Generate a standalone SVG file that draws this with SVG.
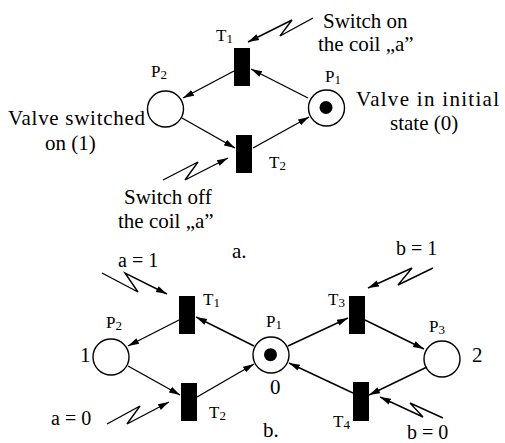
<svg xmlns="http://www.w3.org/2000/svg" width="505" height="443" viewBox="0 0 505 443">
<defs>
<marker id="ah" markerUnits="userSpaceOnUse" markerWidth="12" markerHeight="8" viewBox="0 0 12 8" refX="11" refY="4" orient="auto">
<path d="M0,0.8 L11,4 L0,7.2 Z" fill="#000"/>
</marker>
</defs>
<style>
text{font-family:'Liberation Serif','Times New Roman',serif;fill:#000}
.big{font-size:21px}
.lab{font-size:17px}
.sub{font-size:13px}
.eq{font-size:20px}
.place{fill:#fff;stroke:#000;stroke-width:1.4}
.tr{fill:#000}
.arc{fill:none;stroke:#000;stroke-width:1.4;marker-end:url(#ah)}
</style>
<rect width="505" height="443" fill="#fff"/>

<g id="a_T1"><rect class="tr" x="234" y="48" width="16" height="38"/><text class="lab" x="216" y="41">T<tspan class="sub" dy="2">1</tspan></text></g>
<g id="a_T2"><rect class="tr" x="236" y="135" width="16" height="38"/><text class="lab" x="269" y="168">T<tspan class="sub" dy="2">2</tspan></text></g>
<g id="a_P2"><circle class="place" cx="165.5" cy="109" r="18"/><text class="lab" x="151" y="77">P<tspan class="sub" dy="2">2</tspan></text></g>
<g id="a_P1"><circle class="place" cx="326.5" cy="108" r="18"/><circle cx="326" cy="107.5" r="6.5" fill="#000"/><text class="lab" x="325" y="82">P<tspan class="sub" dy="2">1</tspan></text></g>

<g id="a_texts">
<text class="big" x="323" y="28">Switch on</text>
<text class="big" x="318" y="51">the coil „a”</text>
<text class="big" x="356" y="106" textLength="143" lengthAdjust="spacing">Valve in initial</text>
<text class="big" x="390" y="130">state (0)</text>
<text class="big" x="8" y="125" textLength="137" lengthAdjust="spacing">Valve switched</text>
<text class="big" x="45" y="150">on (1)</text>
<text class="big" x="124" y="204">Switch off</text>
<text class="big" x="118" y="228">the coil „a”</text>
<text class="big" x="232" y="258">a.</text>
</g>

<g id="b_T1"><rect class="tr" x="179" y="296" width="16" height="38"/><text class="lab" x="203" y="305">T<tspan class="sub" dy="2">1</tspan></text></g>
<g id="b_T3"><rect class="tr" x="349" y="296" width="16" height="38"/><text class="lab" x="328" y="305">T<tspan class="sub" dy="2">3</tspan></text></g>
<g id="b_T2"><rect class="tr" x="181" y="383" width="16" height="38"/><text class="lab" x="209" y="418">T<tspan class="sub" dy="2">2</tspan></text></g>
<g id="b_T4"><rect class="tr" x="353" y="382" width="16" height="39"/><text class="lab" x="333" y="427">T<tspan class="sub" dy="2">4</tspan></text></g>
<g id="b_P2"><circle class="place" cx="111" cy="357" r="18"/><text class="lab" x="106" y="328">P<tspan class="sub" dy="2">2</tspan></text><text class="big" x="80" y="362">1</text></g>
<g id="b_P1"><circle class="place" cx="271" cy="355" r="18"/><circle cx="270.5" cy="354.7" r="6.5" fill="#000"/><text class="lab" x="266" y="327">P<tspan class="sub" dy="2">1</tspan></text><text class="big" x="270" y="394">0</text></g>
<g id="b_P3"><circle class="place" cx="442" cy="359" r="18"/><text class="lab" x="429" y="332">P<tspan class="sub" dy="2">3</tspan></text><text class="big" x="472" y="362">2</text></g>

<g id="b_texts">
<text class="eq" x="118" y="267">a = 1</text>
<text class="eq" x="396" y="255">b = 1</text>
<text class="eq" x="51" y="425">a = 0</text>
<text class="eq" x="407" y="439">b = 0</text>
<text class="big" x="263" y="437">b.</text>
</g>

<g id="connectors">
<line class="arc" x1="234" y1="71" x2="183" y2="98"/>
<line class="arc" x1="308" y1="98" x2="251" y2="69"/>
<line class="arc" x1="182" y1="118" x2="235" y2="148"/>
<line class="arc" x1="253" y1="148" x2="309" y2="117"/>
<polyline class="arc" points="313,18 280,36 292,20 248,42"/>
<polyline class="arc" points="163,180 198,162 185,180 228,158"/>

<line class="arc" x1="179" y1="320" x2="128" y2="346"/>
<line class="arc" x1="254" y1="346" x2="196" y2="317"/>
<line class="arc" x1="128" y1="366" x2="180" y2="395"/>
<line class="arc" x1="197" y1="397" x2="254" y2="364"/>
<line class="arc" x1="288" y1="346" x2="348" y2="318"/>
<line class="arc" x1="365" y1="320" x2="424" y2="349"/>
<line class="arc" x1="427" y1="367" x2="369" y2="395"/>
<line class="arc" x1="353" y1="393" x2="289" y2="363"/>
<polyline class="arc" points="102,273 138,292 125,273 167,294"/>
<polyline class="arc" points="107,424 140,406 127,424 169,402"/>
<polyline class="arc" points="433,268 398,285 412,268 368,288"/>
<polyline class="arc" points="443,418 410,403 423,417 380,397"/>
</g>
</svg>
